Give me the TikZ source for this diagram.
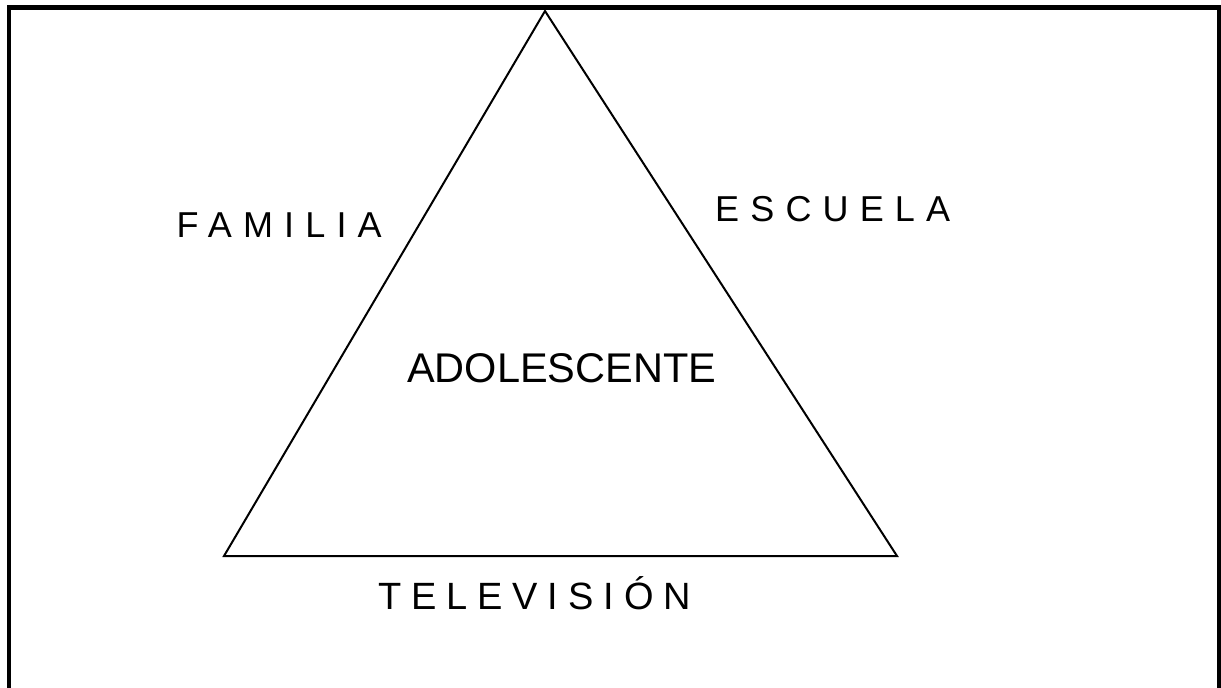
\documentclass[tikz,border=0pt]{standalone}
\usepackage{fontspec}
\setmainfont{Liberation Sans}
\tikzset{
  frameline/.style={line width=4.5pt, line cap=butt},
  triline/.style={line width=2pt, line join=miter},
  spacedlabel/.style={anchor=base west, inner sep=0pt, font=\fontsize{36}{42}\selectfont\addfontfeature{LetterSpace=31}},
  tvlabel/.style={anchor=base west, inner sep=0pt, font=\fontsize{38}{44}\selectfont\addfontfeature{LetterSpace=26}},
  centerlabel/.style={anchor=base west, inner sep=0pt, font=\fontsize{41.5}{50}\selectfont}
}
\begin{document}
\begin{tikzpicture}[x=1pt, y=-1pt]
  \useasboundingbox (0,0) rectangle (1221,688);
  % outer frame (bottom edge cut off)
  \draw[frameline] (9,700) -- (9,7.5) -- (1219,7.5) -- (1219,700);
  % triangle
  \coordinate (apex) at (545,11);
  \coordinate (bl) at (224,556);
  \coordinate (br) at (897,556);
  \draw[triline] (apex) -- (bl) -- (br) -- cycle;
  % labels
  \node[spacedlabel] (familia) at (176.5,237) {FAMILIA};
  \node[spacedlabel] (escuela) at (715,221) {ESCUELA};
  \node[tvlabel] (tele) at (378,609) {TELEVISIÓN};
  \node[centerlabel] (adol) at (407,382) {ADOLESCENTE};
\end{tikzpicture}
\end{document}
